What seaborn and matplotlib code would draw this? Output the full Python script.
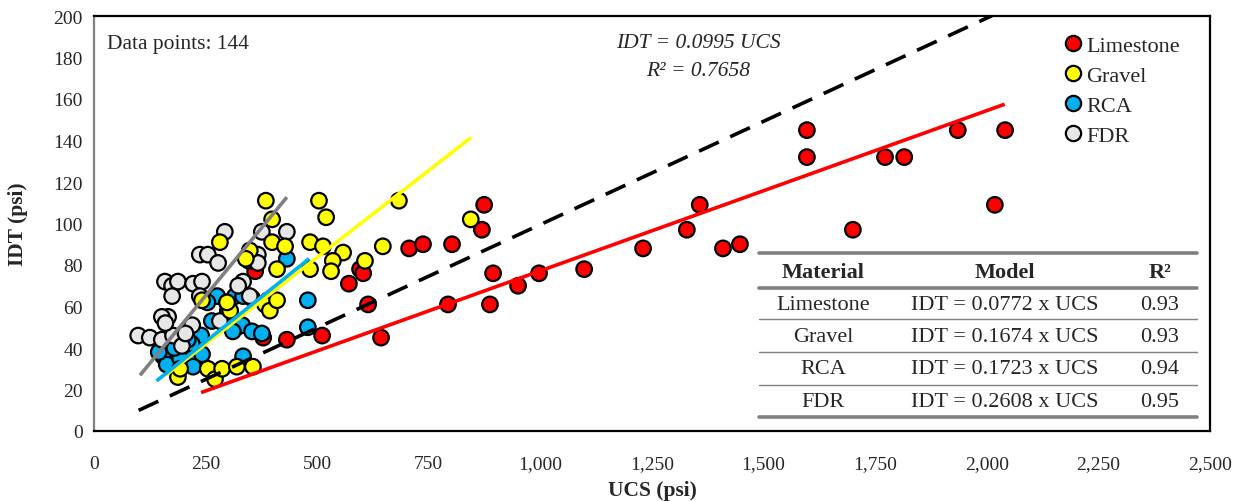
import numpy as np
import pandas as pd
import matplotlib
matplotlib.use("Agg")
import matplotlib.pyplot as plt
from matplotlib.lines import Line2D
from matplotlib.ticker import FuncFormatter
import seaborn as sns

# ---------------- data ----------------
ls_ucs = [1597, 1597, 1772, 1815, 1935, 2041, 2018, 1700, 874, 869, 894, 887, 950, 997,
          1098, 1230, 1328, 1357, 1409, 1447, 706, 737, 802, 596, 603, 571, 614, 793,
          511, 643, 361, 432, 379, 233]
ls_idt = [145, 132, 132, 132, 145, 145, 109, 97, 109, 97, 76, 61, 70, 76,
          78, 88, 97, 109, 88, 90, 88, 90, 90, 78, 76, 71, 61, 61,
          46, 45, 77, 44, 45, 45]

gr_ucs = [385, 399, 282, 399, 428, 410, 349, 242, 305, 383, 394, 410, 188, 193, 255, 271,
          287, 320, 356, 484, 504, 520, 513, 558, 535, 531, 484, 607, 647, 683, 844, 298, 340]
gr_idt = [111, 102, 91, 91, 89, 78, 87, 63, 58, 61, 58, 63, 26, 30, 30, 25,
          30, 31, 31, 91, 111, 103, 89, 86, 82, 77, 78, 82, 89, 111, 102, 62, 83]

rca_ucs = [347, 359, 432, 276, 298, 316, 334, 354, 390, 479, 264, 290, 320, 332, 311, 354,
           376, 479, 222, 240, 197, 219, 155, 163, 193, 226, 242, 222, 334, 145, 180, 210,
           254, 300]
rca_idt = [82, 82, 83, 65, 62, 65, 65, 64, 63, 63, 53, 52, 50, 51, 48, 48,
           47, 50, 48, 46, 41, 42, 36, 32, 35, 35, 37, 31, 36, 38, 40, 44,
           62, 58]

fdr_ucs = [293, 376, 432, 237, 255, 278, 367, 367, 159, 175, 188, 222, 242, 334, 323, 175,
           237, 349, 166, 152, 99, 125, 152, 177, 197, 220, 282, 160, 205]
fdr_idt = [96, 96, 96, 85, 85, 81, 85, 81, 72, 70, 72, 71, 72, 72, 70, 65,
           65, 65, 55, 55, 46, 45, 44, 46, 41, 51, 53, 52, 47]

materials = ["Limestone", "Gravel", "RCA", "FDR"]
slopes = [0.0772, 0.1674, 0.1723, 0.2608]
r2 = ["0.93", "0.93", "0.94", "0.95"]
fit_start = [240, 160, 140, 103]
fit_end = [2040, 845, 482, 432]
all_slope = 0.0995
all_range = [100, 2012]

colors = {"Limestone": "#FF0000", "Gravel": "#FFFF00", "RCA": "#00B0F0", "FDR": "#E6E6E6"}
line_colors = {"Limestone": "#FF0000", "Gravel": "#FFFF00", "RCA": "#00B0F0", "FDR": "#808080"}

x_ticks = [0, 250, 500, 750, 1000, 1250, 1500, 1750, 2000, 2250, 2500]
y_ticks = [0, 20, 40, 60, 80, 100, 120, 140, 160, 180, 200]

# ---------------- frame ----------------
frames = {
    "Limestone": pd.DataFrame({"UCS": ls_ucs, "IDT": ls_idt}),
    "Gravel": pd.DataFrame({"UCS": gr_ucs, "IDT": gr_idt}),
    "RCA": pd.DataFrame({"UCS": rca_ucs, "IDT": rca_idt}),
    "FDR": pd.DataFrame({"UCS": fdr_ucs, "IDT": fdr_idt}),
}
draw_order = ["Limestone", "RCA", "FDR", "Gravel"]
df = pd.concat([frames[m].assign(Material=m) for m in draw_order], ignore_index=True)

sns.set_style("white")
plt.rcParams["font.family"] = ["Liberation Serif", "DejaVu Serif"]

fig = plt.figure(figsize=(12.43, 5.02), dpi=100)
ax = fig.add_axes([94 / 1243, 1 - 432 / 502, (1210 - 94) / 1243, (432 - 17) / 502])

sns.scatterplot(data=df, x="UCS", y="IDT", hue="Material", hue_order=materials,
                palette=colors, s=125, edgecolor="black", linewidth=1.6, ax=ax,
                legend=False, zorder=2)

# fitted lines
for m, k, a, b in zip(materials, slopes, fit_start, fit_end):
    xs = np.array([a, b], dtype=float)
    ax.plot(xs, k * xs, color=line_colors[m], lw=2.6, zorder=3, solid_capstyle="butt")
xa = np.array(all_range, dtype=float)
ax.plot(xa, all_slope * xa, color="black", lw=2.6, ls=(0, (6, 3.5)), zorder=3)

ax.set_xlim(0, 2500)
ax.set_ylim(0, 200)
ax.set_xticks(x_ticks)
ax.set_yticks(y_ticks)
ax.xaxis.set_major_formatter(FuncFormatter(lambda v, p: f"{int(v):,}"))
ax.tick_params(axis="both", length=0, labelsize=14)
ax.tick_params(axis="x", pad=17)
ax.tick_params(axis="y", pad=8)
for s in ax.spines.values():
    s.set_color("black")
    s.set_linewidth(1.6)
ax.spines["left"].set_color("#808080")

ax.set_xlabel("UCS (psi)", fontsize=15.5, fontweight="bold", labelpad=6)
ax.set_ylabel("IDT (psi)", fontsize=15.5, fontweight="bold", labelpad=18)

# legend
handles = [Line2D([], [], marker="o", ls="none", markersize=11, markerfacecolor=colors[m],
                  markeredgecolor="black", markeredgewidth=1.6) for m in materials]
ax.legend(handles, materials, loc="upper right", bbox_to_anchor=(0.985, 0.985), frameon=False,
          fontsize=16, handletextpad=0.0, labelspacing=0.42, handlelength=1.2,
          borderaxespad=0.2)

# annotations
ax.text((107 - 94) / 1116, (432 - 44) / 415, "Data points: 144", transform=ax.transAxes,
        fontsize=15.5, ha="left", va="center")
ax.text((698 - 94) / 1116, (432 - 44) / 415, f"IDT = {all_slope} UCS", transform=ax.transAxes,
        fontsize=15.5, ha="center", va="center", style="italic")
ax.text((698 - 94) / 1116, (432 - 71) / 415, "R² = 0.7658", transform=ax.transAxes,
        fontsize=15.5, ha="center", va="center", style="italic")

# table
def axy(py):
    return (432 - py) / 415

def axx(px):
    return (px - 94) / 1116

tx0, tx1 = axx(759), axx(1197)
for py, lw in [(254, 2.6), (289, 2.6), (320, 1.0), (353, 1.0), (386, 1.0), (418, 2.6)]:
    ax.add_line(Line2D([tx0, tx1], [axy(py), axy(py)], transform=ax.transAxes,
                       color="#808080", lw=lw, zorder=4))
col_x = [axx(823), axx(1005), axx(1160)]
ax.text(col_x[0], axy(273), "Material", transform=ax.transAxes, ha="center", va="center",
        fontsize=16, fontweight="bold")
ax.text(col_x[1], axy(273), "Model", transform=ax.transAxes, ha="center", va="center",
        fontsize=16, fontweight="bold")
ax.text(col_x[2], axy(273), "R²", transform=ax.transAxes, ha="center", va="center",
        fontsize=16, fontweight="bold")
row_y = [306, 338, 370, 403]
for m, k, r, py in zip(materials, slopes, r2, row_y):
    ax.text(col_x[0], axy(py), m, transform=ax.transAxes, ha="center", va="center", fontsize=16)
    ax.text(col_x[1], axy(py), f"IDT = {k:.4f} x UCS", transform=ax.transAxes, ha="center",
            va="center", fontsize=16)
    ax.text(col_x[2], axy(py), r, transform=ax.transAxes, ha="center", va="center", fontsize=16)

fig.savefig("out.png", dpi=100)
